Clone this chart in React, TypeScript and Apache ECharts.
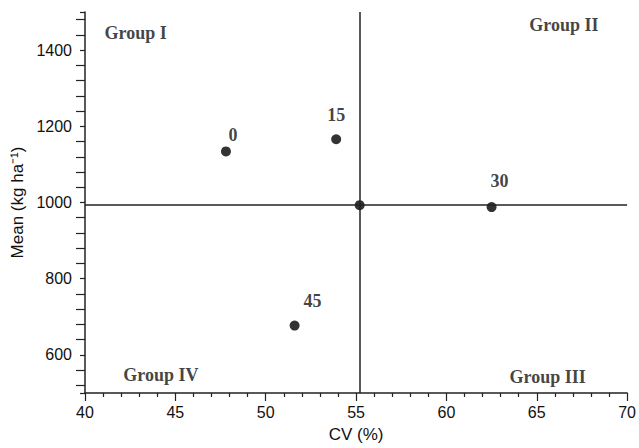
import React, { useEffect, useRef } from "react";
import * as echarts from "echarts";

// Nitrogen rate labels and their CV / mean yield
const rateLabels = ["0", "15", "30", "45"];
const cvValues = [47.8, 53.9, 62.5, 51.6];
const meanValues = [1134, 1166, 988, 677];
const labelOffsets = [[7, 3], [0, -5], [8, -7], [18, -6]];

// overall mean point (quadrant separators)
const overallCv = 55.2;
const overallMean = 993;

// quadrant group labels (placed in data coordinates)
const groupNames = ["Group I", "Group II", "Group III", "Group IV"];
const groupCv = [42.8, 66.5, 65.6, 44.2];
const groupMean = [1444, 1465, 542, 548];

// axes
const xMin = 40, xMax = 70, xInterval = 5;
const yMin = 500, yMax = 1500;
const yLabelValues = [600, 800, 1000, 1200, 1400];

export default function App() {
  const ref = useRef<HTMLDivElement>(null);
  useEffect(() => {
    if (!ref.current) return;
    const chart = echarts.init(ref.current, null, { renderer: "svg" });
    const serif = "'Liberation Serif', 'Times New Roman', serif";
    const sans = "'Liberation Sans', Arial, sans-serif";
    const axisColor = "#222";
    chart.setOption({
      animation: false,
      backgroundColor: "#fff",
      grid: { left: 85, right: 9, top: 12, bottom: 54, containLabel: false },
      xAxis: {
        type: "value",
        min: xMin,
        max: xMax,
        interval: xInterval,
        name: "CV (%)",
        nameLocation: "middle",
        nameGap: 33,
        nameTextStyle: { fontFamily: sans, fontSize: 17, color: "#111" },
        axisLine: { show: true, onZero: false, lineStyle: { color: axisColor, width: 1.5 } },
        axisTick: { show: true, length: 8, lineStyle: { color: axisColor, width: 1.2 } },
        minorTick: { show: true, splitNumber: 5, length: 4, lineStyle: { color: axisColor, width: 1.2 } },
        axisLabel: { fontFamily: sans, fontSize: 16, color: "#111", margin: 11 },
        splitLine: { show: false },
      },
      yAxis: {
        type: "value",
        min: yMin,
        max: yMax,
        splitNumber: 5,
        name: "Mean (kg ha\u207B\u00B9)",
        nameLocation: "middle",
        nameGap: 42,
        nameTextStyle: { fontFamily: sans, fontSize: 17, color: "#111" },
        axisLine: { show: true, onZero: false, lineStyle: { color: axisColor, width: 1.5 } },
        axisTick: { show: true, length: 5, lineStyle: { color: axisColor, width: 1.2 } },
        minorTick: { show: true, splitNumber: 5, length: 9, lineStyle: { color: axisColor, width: 1.2 } },
        axisLabel: {
          fontFamily: sans,
          fontSize: 16,
          color: "#111",
          margin: 13,
          formatter: (v: number) => (yLabelValues.indexOf(v) >= 0 ? String(v) : ""),
        },
        splitLine: { show: false },
      },
      series: [
        {
          type: "scatter",
          symbol: "circle",
          symbolSize: 10,
          itemStyle: { color: "#000" },
          data: cvValues.map((cv, i) => ({
            value: [cv, meanValues[i]],
            name: rateLabels[i],
            label: { offset: labelOffsets[i] },
          })),
          label: {
            show: true,
            position: "top",
            formatter: (p: any) => p.name,
            fontFamily: serif,
            fontWeight: "bold",
            fontSize: 18,
            color: "#111",
          },
          markLine: {
            silent: true,
            symbol: "none",
            label: { show: false },
            lineStyle: { color: "#222", width: 1.5, type: "solid" },
            data: [{ xAxis: overallCv }, { yAxis: overallMean }],
          },
        },
        {
          type: "scatter",
          symbol: "circle",
          symbolSize: 10,
          itemStyle: { color: "#000" },
          data: [[overallCv, overallMean]],
          z: 3,
        },
        {
          type: "scatter",
          symbolSize: 0,
          silent: true,
          data: groupNames.map((g, i) => ({ value: [groupCv[i], groupMean[i]], name: g })),
          label: {
            show: true,
            position: "inside",
            formatter: (p: any) => p.name,
            fontFamily: serif,
            fontWeight: "bold",
            fontSize: 18,
            color: "#111",
          },
        },
      ],
    });
    return () => chart.dispose();
  }, []);
  return (
    <div
      ref={ref}
      style={{ position: "absolute", left: 0, top: 0, width: 639, height: 448 }}
    />
  );
}
